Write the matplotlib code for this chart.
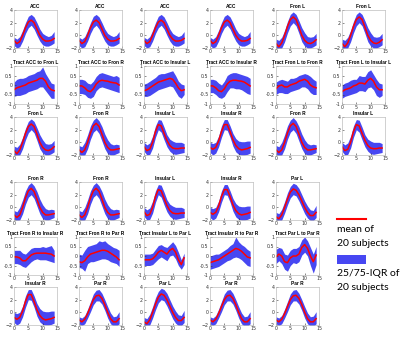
import numpy as np
import matplotlib.pyplot as plt
from matplotlib.lines import Line2D
from matplotlib.patches import Rectangle

# time axis (samples)
t = np.arange(15)

# region curves: mean, 25th and 75th percentile
region_mean = {
    'ACC':       [-0.8, -1.3, -1.0, 0.0, 1.2, 2.1, 2.4, 2.0, 1.0, 0.0, -0.6, -0.9, -0.9, -0.8, -0.5],
    'Fron L':    [-1.3, -1.8, -1.2, 0.0, 1.4, 2.5, 2.9, 2.5, 1.3, 0.0, -0.8, -1.2, -1.3, -1.1, -0.7],
    'Fron R':    [-1.2, -1.6, -1.2, 0.0, 1.5, 2.6, 3.0, 2.5, 1.3, 0.0, -0.8, -1.2, -1.2, -1.1, -1.0],
    'Insular L': [-0.7, -1.3, -1.1, 0.0, 1.7, 2.8, 2.6, 1.4, 0.3, -0.5, -0.9, -1.0, -1.0, -0.9, -0.9],
    'Insular R': [-0.8, -1.1, -0.8, 0.2, 1.7, 2.8, 2.8, 1.7, 0.4, -0.5, -1.0, -1.2, -1.1, -1.0, -0.8],
    'Par L':     [-1.5, -1.8, -1.2, 0.0, 1.3, 2.4, 2.9, 2.7, 2.0, 1.0, 0.0, -0.8, -1.3, -1.3, -0.8],
    'Par R':     [-1.2, -1.5, -1.1, -0.2, 0.9, 2.0, 2.6, 2.7, 2.2, 1.2, 0.0, -1.0, -1.5, -1.5, -1.0],
}
region_hi = {
    'ACC':       [-0.3, -0.6, -0.2, 0.8, 2.0, 3.0, 3.3, 2.9, 2.0, 1.0, 0.3, 0.0, -0.2, 0.0, 0.6],
    'Fron L':    [-0.6, -0.8, -0.3, 0.8, 2.2, 3.3, 3.7, 3.3, 2.3, 1.2, 0.4, -0.2, -0.3, -0.2, 0.3],
    'Fron R':    [-0.5, -0.7, 0.0, 1.2, 2.6, 3.5, 3.9, 3.4, 2.5, 1.3, 0.4, -0.2, -0.4, -0.3, -0.4],
    'Insular L': [0.0, -0.4, -0.1, 1.0, 2.6, 3.6, 3.5, 2.4, 1.2, 0.5, 0.2, 0.0, 0.0, 0.0, -0.2],
    'Insular R': [0.0, -0.2, 0.0, 1.0, 2.6, 3.6, 3.6, 2.6, 1.4, 0.6, 0.2, 0.1, 0.1, 0.2, 0.2],
    'Par L':     [-0.8, -1.0, -0.3, 0.9, 2.3, 3.3, 3.8, 3.6, 3.0, 2.0, 1.0, 0.2, -0.4, -0.5, 0.3],
    'Par R':     [-0.7, -0.9, -0.5, 0.5, 1.7, 2.9, 3.5, 3.6, 3.0, 2.0, 0.9, -0.1, -0.7, -0.6, 0.1],
}
region_lo = {
    'ACC':       [-1.6, -2.0, -1.8, -0.9, 0.3, 1.2, 1.6, 1.0, 0.0, -0.9, -1.5, -1.7, -1.7, -1.5, -1.2],
    'Fron L':    [-2.0, -2.3, -2.0, -1.0, 0.4, 1.5, 2.0, 1.5, 0.3, -1.0, -1.7, -2.0, -2.0, -1.8, -1.5],
    'Fron R':    [-1.8, -2.2, -2.0, -1.0, 0.5, 1.6, 2.0, 1.4, 0.2, -1.0, -1.8, -2.0, -2.0, -1.8, -1.6],
    'Insular L': [-1.4, -2.0, -1.9, -0.9, 0.8, 2.0, 1.6, 0.4, -0.7, -1.4, -1.8, -1.9, -1.8, -1.7, -1.6],
    'Insular R': [-1.6, -2.0, -1.7, -0.7, 0.8, 2.0, 1.9, 0.8, -0.6, -1.5, -1.9, -2.0, -2.0, -1.9, -1.7],
    'Par L':     [-2.2, -2.5, -2.0, -0.9, 0.4, 1.5, 2.0, 1.8, 1.0, 0.0, -1.0, -1.7, -2.1, -2.1, -1.6],
    'Par R':     [-1.8, -2.1, -1.8, -0.9, 0.1, 1.2, 1.8, 1.8, 1.3, 0.3, -0.9, -1.8, -2.2, -2.2, -1.8],
}

# tract curves
tract_mean = {
    'Tract ACC to Fron L':       [-0.25, -0.15, -0.1, -0.05, 0.0, 0.1, 0.15, 0.2, 0.25, 0.35, 0.35, 0.2, -0.1, -0.25, -0.3],
    'Tract ACC to Fron R':       [-0.05, -0.05, -0.15, -0.3, -0.35, -0.2, 0.05, 0.2, 0.25, 0.22, 0.2, 0.15, 0.12, 0.1, 0.0],
    'Tract ACC to Insular L':    [-0.3, -0.25, -0.15, -0.05, 0.05, 0.15, 0.2, 0.25, 0.3, 0.35, 0.3, 0.1, -0.15, -0.3, -0.25],
    'Tract ACC to Insular R':    [-0.05, -0.05, -0.15, -0.3, -0.35, -0.2, 0.05, 0.2, 0.25, 0.25, 0.22, 0.2, 0.15, 0.05, -0.05],
    'Tract Fron L to Fron R':    [-0.2, -0.05, 0.0, -0.1, -0.1, 0.0, 0.05, 0.1, 0.2, 0.25, 0.3, 0.2, 0.0, -0.1, -0.15],
    'Tract Fron L to Insular L': [-0.35, -0.25, -0.2, -0.15, -0.05, 0.0, 0.1, 0.1, 0.05, 0.25, 0.35, 0.2, -0.1, -0.25, -0.25],
    'Tract Fron R to Insular R': [-0.05, -0.05, -0.1, -0.25, -0.25, -0.1, 0.05, 0.12, 0.15, 0.15, 0.15, 0.15, 0.12, 0.1, 0.0],
    'Tract Fron R to Par R':     [-0.3, -0.35, -0.25, -0.05, 0.1, 0.15, 0.2, 0.25, 0.3, 0.3, 0.25, 0.15, 0.05, -0.05, -0.2],
    'Tract Insular L to Par L':  [-0.2, -0.2, -0.2, -0.15, 0.0, 0.2, 0.3, 0.2, 0.1, 0.3, 0.4, 0.2, -0.2, -0.45, -0.1],
    'Tract Insular R to Par R':  [-0.35, -0.3, -0.25, -0.2, -0.1, 0.0, 0.1, 0.2, 0.3, 0.4, 0.35, 0.25, 0.1, -0.05, -0.1],
    'Tract Par L to Par R':      [-0.05, 0.1, 0.0, -0.3, -0.35, -0.1, 0.0, 0.0, 0.1, 0.45, 0.6, 0.4, 0.0, -0.3, 0.05],
}
tract_hi = {
    'Tract ACC to Fron L':       [0.15, 0.3, 0.35, 0.35, 0.4, 0.5, 0.55, 0.6, 0.7, 0.75, 0.95, 0.6, 0.35, 0.1, 0.05],
    'Tract ACC to Fron R':       [0.3, 0.3, 0.25, 0.1, 0.05, 0.2, 0.45, 0.6, 0.65, 0.6, 0.55, 0.5, 0.45, 0.5, 0.4],
    'Tract ACC to Insular L':    [0.05, 0.1, 0.2, 0.3, 0.4, 0.55, 0.6, 0.6, 0.65, 0.7, 0.75, 0.5, 0.2, 0.05, 0.0],
    'Tract ACC to Insular R':    [0.3, 0.3, 0.25, 0.1, 0.0, 0.2, 0.5, 0.6, 0.65, 0.65, 0.6, 0.55, 0.5, 0.45, 0.35],
    'Tract Fron L to Fron R':    [0.15, 0.25, 0.3, 0.25, 0.2, 0.35, 0.35, 0.4, 0.5, 0.55, 0.6, 0.55, 0.45, 0.3, 0.2],
    'Tract Fron L to Insular L': [0.0, 0.1, 0.15, 0.25, 0.3, 0.3, 0.5, 0.45, 0.45, 0.7, 0.8, 0.55, 0.3, 0.1, 0.05],
    'Tract Fron R to Insular R': [0.3, 0.3, 0.3, 0.15, 0.1, 0.25, 0.4, 0.45, 0.45, 0.45, 0.5, 0.45, 0.5, 0.55, 0.3],
    'Tract Fron R to Par R':     [0.1, 0.05, 0.3, 0.5, 0.55, 0.6, 0.65, 0.8, 0.75, 0.8, 0.65, 0.55, 0.45, 0.4, 0.3],
    'Tract Insular L to Par L':  [0.1, 0.1, 0.1, 0.15, 0.35, 0.55, 0.6, 0.5, 0.45, 0.6, 0.75, 0.55, 0.2, -0.2, 0.15],
    'Tract Insular R to Par R':  [0.0, 0.05, 0.1, 0.1, 0.2, 0.3, 0.4, 0.55, 0.65, 1.0, 0.75, 0.6, 0.5, 0.35, 0.25],
    'Tract Par L to Par R':      [0.35, 0.45, 0.4, 0.1, 0.05, 0.3, 0.4, 0.4, 0.5, 0.85, 1.0, 0.8, 0.45, 0.1, 0.5],
}
tract_lo = {
    'Tract ACC to Fron L':       [-0.6, -0.55, -0.55, -0.5, -0.45, -0.35, -0.3, -0.25, -0.2, -0.1, -0.1, -0.3, -0.5, -0.7, -0.7],
    'Tract ACC to Fron R':       [-0.45, -0.45, -0.5, -0.65, -0.7, -0.6, -0.3, -0.15, -0.1, -0.15, -0.2, -0.25, -0.3, -0.35, -0.4],
    'Tract ACC to Insular L':    [-0.6, -0.6, -0.55, -0.45, -0.35, -0.25, -0.2, -0.15, -0.1, -0.05, -0.1, -0.35, -0.6, -0.7, -0.5],
    'Tract ACC to Insular R':    [-0.4, -0.4, -0.5, -0.65, -0.7, -0.6, -0.35, -0.15, -0.15, -0.2, -0.2, -0.25, -0.35, -0.45, -0.5],
    'Tract Fron L to Fron R':    [-0.5, -0.4, -0.4, -0.45, -0.45, -0.35, -0.3, -0.25, -0.2, -0.1, -0.1, -0.2, -0.4, -0.5, -0.5],
    'Tract Fron L to Insular L': [-0.7, -0.6, -0.55, -0.5, -0.45, -0.4, -0.3, -0.3, -0.35, -0.15, -0.1, -0.25, -0.55, -0.65, -0.55],
    'Tract Fron R to Insular R': [-0.4, -0.4, -0.45, -0.55, -0.6, -0.45, -0.3, -0.2, -0.15, -0.2, -0.2, -0.2, -0.25, -0.3, -0.35],
    'Tract Fron R to Par R':     [-0.6, -0.65, -0.8, -0.4, -0.3, -0.3, -0.25, -0.2, -0.15, -0.15, -0.2, -0.3, -0.35, -0.4, -0.55],
    'Tract Insular L to Par L':  [-0.5, -0.5, -0.5, -0.45, -0.3, -0.15, -0.05, -0.15, -0.25, 0.0, 0.05, -0.15, -0.5, -0.7, -0.45],
    'Tract Insular R to Par R':  [-0.7, -0.65, -0.6, -0.55, -0.45, -0.35, -0.25, -0.2, -0.1, -0.05, -0.1, -0.2, -0.35, -0.5, -0.55],
    'Tract Par L to Par R':      [-0.4, -0.25, -0.4, -0.7, -0.8, -0.5, -0.35, -0.4, -0.3, 0.05, 0.2, 0.0, -0.5, -0.9, -0.45],
}

# panel grid, row by row
panel_rows = [
    ['ACC', 'ACC', 'ACC', 'ACC', 'Fron L', 'Fron L'],
    ['Tract ACC to Fron L', 'Tract ACC to Fron R', 'Tract ACC to Insular L',
     'Tract ACC to Insular R', 'Tract Fron L to Fron R', 'Tract Fron L to Insular L'],
    ['Fron L', 'Fron R', 'Insular L', 'Insular R', 'Fron R', 'Insular L'],
    ['Fron R', 'Fron R', 'Insular L', 'Insular R', 'Par L'],
    ['Tract Fron R to Insular R', 'Tract Fron R to Par R', 'Tract Insular L to Par L',
     'Tract Insular R to Par R', 'Tract Par L to Par R'],
    ['Insular R', 'Par R', 'Par L', 'Par R', 'Par R'],
]

BAND = '#4747f2'
W, H = 400, 341
col_left = [14, 79, 144, 210, 276, 342]
row_top = [10, 66, 117, 182, 237, 287]
ax_w, ax_h = 43, 38

fig = plt.figure(figsize=(W / 100, H / 100), dpi=100)

for r, names in enumerate(panel_rows):
    for c, name in enumerate(names):
        x0 = col_left[c] / W
        y0 = 1 - (row_top[r] + ax_h) / H
        ax = fig.add_axes([x0, y0, ax_w / W, ax_h / H])
        if name.startswith('Tract'):
            m, lo, hi = tract_mean[name], tract_lo[name], tract_hi[name]
            ax.set_ylim(-1, 1)
            ax.set_yticks([-1, -0.5, 0, 0.5, 1])
            ax.set_yticklabels(['-1', '-0.5', '0', '0.5', '1'])
        else:
            m, lo, hi = region_mean[name], region_lo[name], region_hi[name]
            ax.set_ylim(-2, 4)
            ax.set_yticks([-2, 0, 2, 4])
        ax.fill_between(t, lo, hi, color=BAND, lw=0)
        ax.plot(t, m, color='red', lw=1.1)
        ax.set_xlim(0, 15)
        ax.set_xticks([0, 5, 10, 15])
        ax.set_title(name, fontsize=3.4, fontweight='bold', pad=1.5,
                     family='Liberation Sans')
        ax.tick_params(labelsize=3.4, length=1.2, width=0.4, pad=1,
                       direction='in', colors='#333333')
        for s in ax.spines.values():
            s.set_color('#bdbdbd')
            s.set_linewidth(0.5)

# legend drawn by hand in the empty slot
fig.add_artist(Line2D([337 / W, 366 / W], [1 - 219 / H, 1 - 219 / H],
                      color='red', lw=1.5))
fig.add_artist(Rectangle((337 / W, 1 - 264 / H), 29 / W, 9 / H,
                         color=BAND, lw=0))
leg_font = dict(fontsize=7.5, family='Lato', va='center', ha='left')
fig.text(337 / W, 1 - 230 / H, 'mean of', **leg_font)
fig.text(337 / W, 1 - 243 / H, '20 subjects', **leg_font)
fig.text(337 / W, 1 - 273 / H, '25/75-IQR of', **leg_font)
fig.text(337 / W, 1 - 287 / H, '20 subjects', **leg_font)

fig.savefig('out.png', dpi=100)
